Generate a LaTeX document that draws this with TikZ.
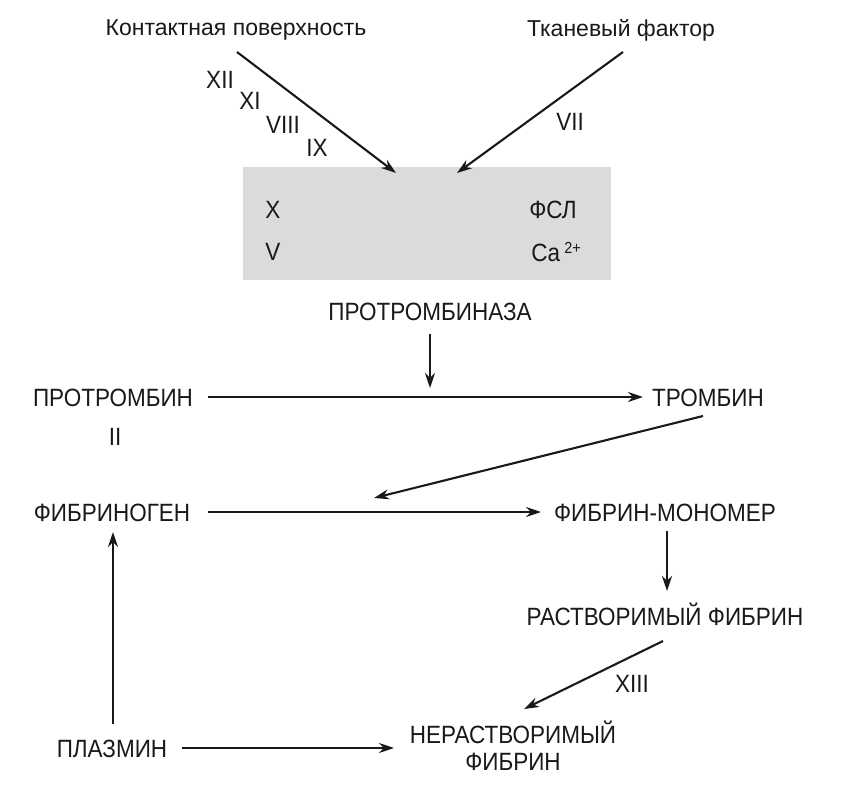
\documentclass[tikz,border=0pt]{standalone}
\usepackage{fontspec}
\setmainfont{Liberation Sans}
\newfontfamily\condf{Liberation Sans}[FakeStretch=0.9]
\usetikzlibrary{arrows.meta}
\begin{document}
\begin{tikzpicture}[x=1pt,y=-1pt,
  lbl/.style={inner sep=0pt, font=\condf\fontsize{25}{29}\selectfont, text=black!90},
  low/.style={inner sep=0pt, font=\fontsize{23}{27}\selectfont, text=black!90},
  arr/.style={-{Stealth[length=15pt,width=10pt]}, line width=2.1pt, black!90},
  ln/.style={line width=2.1pt, black!90}]
\useasboundingbox (0,0) rectangle (841,789);
% gray box
\fill[gray!28] (243,167) rectangle (611,280);
\node[lbl] (X) at (273,210) {X};
\node[lbl] (V) at (273,252) {V};
\node[lbl] (fsl) at (553,210) {ФСЛ};
\node[lbl] (ca) at (556,252) {Ca\,\raisebox{0.55ex}{\fontsize{16}{16}\selectfont 2+}};
% top
\node[low] (kont) at (236,30) {Контактная поверхность};
\node[low] (tkan) at (621,30) {Тканевый фактор};
\node[lbl] (xii) at (220,80) {XII};
\node[lbl] (xi) at (250,101) {XI};
\node[lbl] (viii) at (283,125) {VIII};
\node[lbl] (ix) at (317,148) {IX};
\node[lbl] (vii) at (570,122) {VII};
\coordinate (k1) at (237,52);
\coordinate (k2) at (396,173);
\coordinate (t1) at (623,52);
\coordinate (t2) at (457,173);
\draw[arr] (k1) -- (k2);
\draw[arr] (t1) -- (t2);
% prothrombinase
\node[lbl] (ptase) at (430,312) {ПРОТРОМБИНАЗА};
\coordinate (pz1) at (430,334);
\coordinate (pz2) at (430,388);
\draw[arr] (pz1) -- (pz2);
% prothrombin -> thrombin
\node[lbl] (prot) at (113,398) {ПРОТРОМБИН};
\node[lbl] (ii) at (115,437) {II};
\node[lbl] (tromb) at (708,398) {ТРОМБИН};
\coordinate (p1) at (208,397);
\coordinate (p2) at (643,397);
\draw[arr] (p1) -- (p2);
% thrombin -> fibrinogen line
\coordinate (th1) at (703,416);
\coordinate (th2) at (374,498);
\draw[arr] (th1) -- (th2);
% fibrinogen -> monomer
\node[lbl] (fgen) at (112,513) {ФИБРИНОГЕН};
\node[lbl] (mono) at (665,513) {ФИБРИН-МОНОМЕР};
\coordinate (f1) at (208,512);
\coordinate (f2) at (541,512);
\draw[arr] (f1) -- (f2);
% monomer -> soluble
\node[lbl] (rast) at (665,614) {РАСТВОРИМЫЙ ФИБРИН};
\coordinate (m1) at (667,531);
\coordinate (m2) at (667,591);
\draw[arr] (m1) -- (m2);
% soluble -> insoluble
\node[lbl] (xiii) at (632,684) {XIII};
\node[lbl, align=center] (nerast) at (513,746) {НЕРАСТВОРИМЫЙ\\[-2pt]ФИБРИН};
\coordinate (r1) at (663,641);
\coordinate (r2) at (524,709);
\draw[arr] (r1) -- (r2);
% plasmin
\node[lbl] (plaz) at (112,749) {ПЛАЗМИН};
\coordinate (pl1) at (182,748);
\coordinate (pl2) at (394,748);
\draw[arr] (pl1) -- (pl2);
\coordinate (pu1) at (113,724);
\coordinate (pu2) at (113,532);
\draw[arr] (pu1) -- (pu2);
\end{tikzpicture}
\end{document}
